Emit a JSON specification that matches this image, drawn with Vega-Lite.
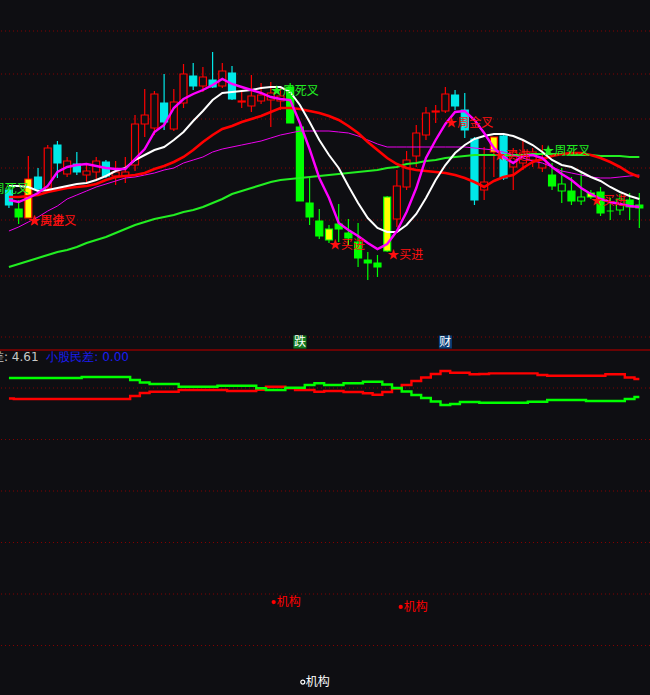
{
  "$schema": "https://vega.github.io/schema/vega-lite/v6.json",
  "width": 650,
  "height": 695,
  "padding": 0,
  "autosize": {"type": "none"},
  "background": "#0e0e12",
  "config": {"view": {"stroke": null}, "text": {"font": "Noto Sans CJK SC"}},
  "datasets": {
    "bars": [
      {"k":0,"t":"C","o":30.50,"c":29.75,"h":30.65,"l":29.60,"w":30.70,"m5":30.00,"r":30.15,"mt":28.45,"g":26.65,"lg":21.94,"lr":17.96},
      {"k":1,"t":"G","o":29.55,"c":29.15,"h":30.00,"l":28.80,"w":30.70,"m5":29.90,"r":30.15,"mt":28.65,"g":26.80,"lg":21.94,"lr":17.86},
      {"k":2,"t":"YR","o":29.10,"c":31.05,"h":32.20,"l":29.10,"w":30.65,"m5":30.10,"r":30.20,"mt":28.90,"g":26.95,"lg":21.94,"lr":17.86},
      {"k":3,"t":"C","o":31.15,"c":30.55,"h":31.60,"l":30.50,"w":30.45,"m5":30.35,"r":30.25,"mt":29.15,"g":27.10,"lg":21.94,"lr":17.86},
      {"k":4,"t":"R","o":30.60,"c":32.60,"h":32.75,"l":30.50,"w":30.50,"m5":30.70,"r":30.40,"mt":29.45,"g":27.25,"lg":21.94,"lr":17.86},
      {"k":5,"t":"C","o":32.75,"c":31.85,"h":32.95,"l":31.10,"w":30.60,"m5":31.40,"r":30.50,"mt":29.70,"g":27.40,"lg":21.94,"lr":17.86},
      {"k":6,"t":"R","o":31.30,"c":31.95,"h":32.15,"l":31.15,"w":30.70,"m5":31.65,"r":30.60,"mt":30.05,"g":27.50,"lg":21.94,"lr":17.86},
      {"k":7,"t":"C","o":31.80,"c":31.40,"h":32.40,"l":31.25,"w":30.80,"m5":31.75,"r":30.65,"mt":30.25,"g":27.65,"lg":21.94,"lr":17.86},
      {"k":8,"t":"R","o":31.25,"c":31.45,"h":31.85,"l":30.90,"w":30.85,"m5":31.80,"r":30.70,"mt":30.45,"g":27.85,"lg":22.14,"lr":17.86},
      {"k":9,"t":"R","o":31.40,"c":31.95,"h":32.15,"l":31.00,"w":31.00,"m5":31.70,"r":30.80,"mt":30.65,"g":28.00,"lg":22.14,"lr":17.86},
      {"k":10,"t":"C","o":31.90,"c":31.20,"h":32.00,"l":31.10,"w":31.20,"m5":31.60,"r":31.00,"mt":30.80,"g":28.15,"lg":22.14,"lr":17.86},
      {"k":11,"t":"R","o":31.20,"c":31.40,"h":31.95,"l":30.75,"w":31.45,"m5":31.55,"r":31.15,"mt":30.95,"g":28.35,"lg":22.14,"lr":17.86},
      {"k":12,"t":"R","o":31.20,"c":31.40,"h":32.15,"l":30.85,"w":31.60,"m5":31.55,"r":31.20,"mt":31.10,"g":28.55,"lg":22.14,"lr":17.86},
      {"k":13,"t":"R","o":31.75,"c":33.80,"h":34.25,"l":31.45,"w":32.00,"m5":32.05,"r":31.25,"mt":31.15,"g":28.75,"lg":21.55,"lr":18.45},
      {"k":14,"t":"R","o":33.80,"c":34.25,"h":35.55,"l":33.15,"w":32.25,"m5":32.55,"r":31.35,"mt":31.25,"g":28.90,"lg":21.07,"lr":19.03},
      {"k":15,"t":"R","o":33.60,"c":35.30,"h":35.45,"l":33.25,"w":32.50,"m5":33.40,"r":31.55,"mt":31.35,"g":29.05,"lg":20.78,"lr":19.28},
      {"k":16,"t":"C","o":34.85,"c":33.90,"h":36.30,"l":33.50,"w":32.65,"m5":33.75,"r":31.70,"mt":31.50,"g":29.15,"lg":20.78,"lr":19.28},
      {"k":17,"t":"R","o":33.55,"c":34.90,"h":35.55,"l":33.45,"w":33.00,"m5":34.60,"r":31.90,"mt":31.60,"g":29.25,"lg":20.78,"lr":19.28},
      {"k":18,"t":"R","o":34.85,"c":36.30,"h":36.80,"l":34.60,"w":33.40,"m5":35.05,"r":32.15,"mt":31.85,"g":29.40,"lg":20.25,"lr":19.61},
      {"k":19,"t":"C","o":36.20,"c":35.70,"h":36.85,"l":35.50,"w":33.95,"m5":35.30,"r":32.50,"mt":32.00,"g":29.50,"lg":20.25,"lr":19.61},
      {"k":20,"t":"R","o":35.70,"c":36.15,"h":36.65,"l":35.40,"w":34.45,"m5":35.50,"r":32.90,"mt":32.15,"g":29.65,"lg":20.25,"lr":19.61},
      {"k":21,"t":"C","o":36.00,"c":35.65,"h":37.40,"l":35.60,"w":35.00,"m5":35.75,"r":33.25,"mt":32.40,"g":29.85,"lg":20.25,"lr":19.61},
      {"k":22,"t":"R","o":35.70,"c":36.45,"h":36.85,"l":35.60,"w":35.35,"m5":36.05,"r":33.55,"mt":32.55,"g":30.05,"lg":20.45,"lr":19.61},
      {"k":23,"t":"C","o":36.35,"c":35.05,"h":36.70,"l":35.00,"w":35.40,"m5":35.80,"r":33.70,"mt":32.65,"g":30.30,"lg":20.45,"lr":19.42},
      {"k":24,"t":"R","o":34.90,"c":34.95,"h":35.40,"l":34.60,"w":35.45,"m5":35.65,"r":33.90,"mt":32.75,"g":30.45,"lg":20.45,"lr":19.42},
      {"k":25,"t":"R","o":34.70,"c":35.20,"h":36.25,"l":34.40,"w":35.50,"m5":35.50,"r":34.05,"mt":32.85,"g":30.60,"lg":20.45,"lr":19.42},
      {"k":26,"t":"R","o":34.95,"c":35.25,"h":35.85,"l":34.80,"w":35.60,"m5":35.35,"r":34.20,"mt":32.95,"g":30.75,"lg":19.94,"lr":19.67},
      {"k":27,"t":"R","o":35.00,"c":35.35,"h":35.90,"l":33.65,"w":35.65,"m5":35.15,"r":34.40,"mt":33.10,"g":30.90,"lg":19.61,"lr":20.25},
      {"k":28,"t":"R","o":34.95,"c":35.20,"h":35.60,"l":34.50,"w":35.65,"m5":35.05,"r":34.60,"mt":33.25,"g":31.00,"lg":19.61,"lr":20.25},
      {"k":29,"t":"G","o":35.65,"c":33.85,"h":35.85,"l":33.85,"w":35.40,"m5":35.00,"r":34.60,"mt":33.35,"g":31.05,"lg":20.06,"lr":19.94},
      {"k":30,"t":"G","o":33.65,"c":29.95,"h":33.75,"l":29.95,"w":34.75,"m5":33.85,"r":34.55,"mt":33.45,"g":31.10,"lg":20.06,"lr":19.61},
      {"k":31,"t":"G","o":29.85,"c":29.15,"h":31.10,"l":28.75,"w":33.90,"m5":32.55,"r":34.45,"mt":33.45,"g":31.15,"lg":20.58,"lr":19.61},
      {"k":32,"t":"G","o":28.95,"c":28.20,"h":29.55,"l":28.05,"w":33.00,"m5":31.10,"r":34.35,"mt":33.45,"g":31.20,"lg":20.91,"lr":19.28},
      {"k":33,"t":"YG","o":28.55,"c":28.00,"h":28.75,"l":27.85,"w":32.25,"m5":30.10,"r":34.20,"mt":33.45,"g":31.25,"lg":20.58,"lr":19.42},
      {"k":34,"t":"G","o":28.80,"c":28.55,"h":29.80,"l":27.90,"w":31.60,"m5":28.85,"r":34.00,"mt":33.40,"g":31.30,"lg":20.58,"lr":19.42},
      {"k":35,"t":"G","o":28.35,"c":28.10,"h":29.05,"l":27.75,"w":30.70,"m5":28.50,"r":33.70,"mt":33.35,"g":31.35,"lg":20.91,"lr":19.22},
      {"k":36,"t":"G","o":27.90,"c":27.10,"h":28.85,"l":26.65,"w":29.85,"m5":28.20,"r":33.35,"mt":33.20,"g":31.40,"lg":20.91,"lr":19.22},
      {"k":37,"t":"G","o":27.00,"c":26.85,"h":27.40,"l":26.00,"w":29.10,"m5":27.85,"r":32.90,"mt":33.00,"g":31.45,"lg":21.22,"lr":18.97},
      {"k":38,"t":"G","o":26.85,"c":26.65,"h":27.25,"l":26.15,"w":28.60,"m5":27.55,"r":32.50,"mt":32.80,"g":31.50,"lg":21.22,"lr":18.70},
      {"k":39,"t":"YG","o":30.15,"c":27.45,"h":30.20,"l":27.40,"w":28.40,"m5":27.80,"r":32.10,"mt":32.65,"g":31.60,"lg":20.68,"lr":19.22},
      {"k":40,"t":"R","o":29.05,"c":30.70,"h":31.50,"l":28.65,"w":28.40,"m5":28.45,"r":31.80,"mt":32.65,"g":31.65,"lg":20.00,"lr":19.88},
      {"k":41,"t":"R","o":30.65,"c":32.00,"h":32.45,"l":30.50,"w":28.75,"m5":29.40,"r":31.60,"mt":32.65,"g":31.80,"lg":19.32,"lr":20.58},
      {"k":42,"t":"R","o":32.20,"c":33.35,"h":33.75,"l":31.65,"w":29.30,"m5":30.60,"r":31.50,"mt":32.65,"g":31.85,"lg":18.64,"lr":21.36},
      {"k":43,"t":"R","o":33.25,"c":34.35,"h":34.65,"l":33.00,"w":30.10,"m5":32.10,"r":31.45,"mt":32.65,"g":31.95,"lg":18.06,"lr":22.04},
      {"k":44,"t":"R","o":34.40,"c":34.45,"h":34.75,"l":33.85,"w":31.00,"m5":33.00,"r":31.40,"mt":32.65,"g":32.00,"lg":17.38,"lr":22.72},
      {"k":45,"t":"R","o":34.45,"c":35.30,"h":35.65,"l":34.35,"w":31.75,"m5":33.80,"r":31.35,"mt":32.65,"g":32.10,"lg":16.70,"lr":23.30},
      {"k":46,"t":"C","o":35.25,"c":34.70,"h":35.50,"l":34.50,"w":32.35,"m5":34.40,"r":31.25,"mt":32.65,"g":32.15,"lg":16.89,"lr":22.97},
      {"k":47,"t":"C","o":34.50,"c":33.50,"h":35.35,"l":33.10,"w":32.75,"m5":34.45,"r":31.10,"mt":32.65,"g":32.20,"lg":17.28,"lr":22.97},
      {"k":48,"t":"C","o":33.05,"c":30.00,"h":33.15,"l":29.75,"w":33.05,"m5":34.00,"r":30.90,"mt":32.60,"g":32.25,"lg":17.28,"lr":22.66},
      {"k":49,"t":"R","o":30.50,"c":30.90,"h":32.65,"l":30.00,"w":33.20,"m5":33.35,"r":30.65,"mt":32.55,"g":32.25,"lg":17.15,"lr":22.72},
      {"k":50,"t":"YR","o":32.40,"c":33.15,"h":33.15,"l":31.15,"w":33.30,"m5":32.60,"r":30.95,"mt":32.50,"g":32.25,"lg":17.15,"lr":22.85},
      {"k":51,"t":"C","o":33.20,"c":31.10,"h":33.35,"l":31.00,"w":33.30,"m5":32.15,"r":31.15,"mt":32.40,"g":32.25,"lg":17.15,"lr":22.85},
      {"k":52,"t":"R","o":31.65,"c":32.40,"h":32.60,"l":30.50,"w":33.20,"m5":31.85,"r":31.25,"mt":32.25,"g":32.25,"lg":17.15,"lr":22.85},
      {"k":53,"t":"R","o":31.85,"c":32.35,"h":33.00,"l":31.50,"w":33.00,"m5":32.20,"r":31.60,"mt":32.10,"g":32.25,"lg":17.15,"lr":22.85},
      {"k":54,"t":"R","o":32.00,"c":32.40,"h":32.60,"l":31.65,"w":32.75,"m5":32.25,"r":31.90,"mt":31.95,"g":32.30,"lg":17.34,"lr":22.85},
      {"k":55,"t":"R","o":31.60,"c":32.00,"h":32.75,"l":31.40,"w":32.40,"m5":32.10,"r":32.05,"mt":31.85,"g":32.30,"lg":17.34,"lr":22.52},
      {"k":56,"t":"G","o":31.25,"c":30.70,"h":31.85,"l":30.50,"w":32.00,"m5":31.65,"r":32.20,"mt":31.65,"g":32.30,"lg":17.67,"lr":22.39},
      {"k":57,"t":"g","o":30.45,"c":30.80,"h":31.60,"l":29.85,"w":31.75,"m5":31.30,"r":32.30,"mt":31.45,"g":32.30,"lg":17.67,"lr":22.39},
      {"k":58,"t":"G","o":30.45,"c":29.95,"h":31.15,"l":29.75,"w":31.65,"m5":31.00,"r":32.35,"mt":31.35,"g":32.25,"lg":17.67,"lr":22.39},
      {"k":59,"t":"g","o":29.95,"c":30.15,"h":31.35,"l":29.75,"w":31.40,"m5":30.60,"r":32.35,"mt":31.25,"g":32.25,"lg":17.67,"lr":22.39},
      {"k":60,"t":"YG","o":30.15,"c":30.35,"h":30.50,"l":30.05,"w":31.15,"m5":30.30,"r":32.25,"mt":31.15,"g":32.25,"lg":17.48,"lr":22.39},
      {"k":61,"t":"G","o":30.40,"c":29.35,"h":30.65,"l":29.20,"w":30.95,"m5":30.05,"r":32.10,"mt":31.10,"g":32.20,"lg":17.48,"lr":22.39},
      {"k":62,"t":"G","o":29.45,"c":29.45,"h":30.10,"l":29.00,"w":30.65,"m5":29.90,"r":31.90,"mt":31.10,"g":32.20,"lg":17.48,"lr":22.66},
      {"k":63,"t":"g","o":29.50,"c":30.05,"h":30.30,"l":29.25,"w":30.40,"m5":29.80,"r":31.65,"mt":31.15,"g":32.20,"lg":17.48,"lr":22.66},
      {"k":64,"t":"G","o":30.00,"c":29.65,"h":30.35,"l":29.00,"w":30.20,"m5":29.70,"r":31.35,"mt":31.20,"g":32.15,"lg":17.86,"lr":22.04},
      {"k":65,"t":"G","o":29.75,"c":29.60,"h":30.35,"l":28.60,"w":30.05,"m5":29.65,"r":31.15,"mt":31.25,"g":32.15,"lg":18.25,"lr":21.75}
    ],
    "signals": [
      {"k":-2.9,"p":30.55,"txt":"★周死叉","kind":"dead"},
      {"k":2,"p":28.95,"txt":"★周金叉","kind":"gold"},
      {"k":2,"p":28.95,"txt":"★买进","kind":"gold"},
      {"k":27,"p":35.45,"txt":"★周死叉","kind":"dead"},
      {"k":33,"p":27.75,"txt":"★买进","kind":"gold"},
      {"k":39,"p":27.25,"txt":"★买进","kind":"gold"},
      {"k":45,"p":33.85,"txt":"★周金叉","kind":"gold"},
      {"k":50,"p":32.20,"txt":"★买进","kind":"gold"},
      {"k":55,"p":32.45,"txt":"★周死叉","kind":"dead"},
      {"k":60,"p":29.95,"txt":"★买进","kind":"gold"}
    ],
    "events": [
      {"k":30,"p":22.90,"txt":"跌"},
      {"k":45,"p":22.90,"txt":"财"}
    ],
    "grid_main": [{"p":38.45},{"p":36.30},{"p":34.05},{"p":31.60},{"p":29.00},{"p":26.20},{"p":23.15}],
    "grid_low": [{"v":20},{"v":10},{"v":0},{"v":-10},{"v":-20},{"v":-30}],
    "inst": [
      {"k":27.3,"v":-21.56,"kind":"red"},
      {"k":40.4,"v":-22.5,"kind":"red"},
      {"k":30.3,"v":-37.1,"kind":"white"}
    ],
    "titles": [
      {"k":3.05,"v":26.0,"txt":"大股民差: 4.61","kind":"a"},
      {"k":3.86,"v":26.0,"txt":"小股民差: 0.00","kind":"b"}
    ]
  },
  "layer": [
    {
      "layer": [
        {
          "data": {"name": "grid_main"},
          "mark": {"type": "rule", "stroke": "#850000", "strokeDash": [1, 3], "strokeWidth": 1},
          "encoding": {"y": {"field": "p", "type": "quantitative", "scale": {"domain": [5.25, 40], "nice": false, "zero": false}, "axis": null}}
        },
        {
          "data": {"name": "bars"},
          "mark": {"type": "rule", "strokeWidth": 1.2},
          "encoding": {
            "x": {"field": "k", "type": "quantitative", "scale": {"domain": [-0.406, 65.584], "nice": false, "zero": false}, "axis": null},
            "y": {"field": "h", "type": "quantitative", "scale": {"domain": [5.25, 40], "nice": false, "zero": false}, "axis": null},
            "y2": {"field": "l"},
            "stroke": {"field": "t", "type": "nominal", "legend": null, "scale": {"domain": ["R","C","G","g","YR","YG"], "range": ["#ff0000","#00e8e8","#00ff00","#00ff00","#ff0000","#00ff00"]}}
          }
        },
        {
          "data": {"name": "bars"},
          "mark": {"type": "bar", "width": 7, "strokeWidth": 1.2},
          "encoding": {
            "x": {"field": "k", "type": "quantitative", "scale": {"domain": [-0.406, 65.584], "nice": false, "zero": false}, "axis": null},
            "y": {"field": "o", "type": "quantitative", "scale": {"domain": [5.25, 40], "nice": false, "zero": false}, "axis": null},
            "y2": {"field": "c"},
            "fill": {"field": "t", "type": "nominal", "legend": null, "scale": {"domain": ["R","C","G","g","YR","YG"], "range": ["#0e0e12","#00e8e8","#00ff00","#0e0e12","#ffff00","#ffff00"]}},
            "stroke": {"field": "t", "type": "nominal", "legend": null, "scale": {"domain": ["R","C","G","g","YR","YG"], "range": ["#ff0000","#00e8e8","#00ff00","#00ff00","#ff0000","#00ff00"]}}
          }
        },
        {
          "data": {"name": "bars"},
          "mark": {"type": "line", "stroke": "#22ee22", "strokeWidth": 2.2},
          "encoding": {
            "x": {"field": "k", "type": "quantitative", "scale": {"domain": [-0.406, 65.584], "nice": false, "zero": false}, "axis": null},
            "y": {"field": "g", "type": "quantitative", "scale": {"domain": [5.25, 40], "nice": false, "zero": false}, "axis": null}
          }
        },
        {
          "data": {"name": "bars"},
          "mark": {"type": "line", "stroke": "#ee00ee", "strokeWidth": 1},
          "encoding": {
            "x": {"field": "k", "type": "quantitative", "scale": {"domain": [-0.406, 65.584], "nice": false, "zero": false}, "axis": null},
            "y": {"field": "mt", "type": "quantitative", "scale": {"domain": [5.25, 40], "nice": false, "zero": false}, "axis": null}
          }
        },
        {
          "data": {"name": "bars"},
          "mark": {"type": "line", "stroke": "#ff0000", "strokeWidth": 2.6},
          "encoding": {
            "x": {"field": "k", "type": "quantitative", "scale": {"domain": [-0.406, 65.584], "nice": false, "zero": false}, "axis": null},
            "y": {"field": "r", "type": "quantitative", "scale": {"domain": [5.25, 40], "nice": false, "zero": false}, "axis": null}
          }
        },
        {
          "data": {"name": "bars"},
          "mark": {"type": "line", "stroke": "#ffffff", "strokeWidth": 2},
          "encoding": {
            "x": {"field": "k", "type": "quantitative", "scale": {"domain": [-0.406, 65.584], "nice": false, "zero": false}, "axis": null},
            "y": {"field": "w", "type": "quantitative", "scale": {"domain": [5.25, 40], "nice": false, "zero": false}, "axis": null}
          }
        },
        {
          "data": {"name": "bars"},
          "mark": {"type": "line", "stroke": "#ff00ff", "strokeWidth": 2.4},
          "encoding": {
            "x": {"field": "k", "type": "quantitative", "scale": {"domain": [-0.406, 65.584], "nice": false, "zero": false}, "axis": null},
            "y": {"field": "m5", "type": "quantitative", "scale": {"domain": [5.25, 40], "nice": false, "zero": false}, "axis": null}
          }
        },
        {
          "data": {"name": "signals"},
          "transform": [{"filter": "datum.kind === 'gold'"}],
          "mark": {"type": "text", "align": "left", "baseline": "middle", "fontSize": 12, "color": "#ff1010"},
          "encoding": {
            "x": {"field": "k", "type": "quantitative", "scale": {"domain": [-0.406, 65.584], "nice": false, "zero": false}, "axis": null},
            "y": {"field": "p", "type": "quantitative", "scale": {"domain": [5.25, 40], "nice": false, "zero": false}, "axis": null},
            "text": {"field": "txt"}
          }
        },
        {
          "data": {"name": "signals"},
          "transform": [{"filter": "datum.kind === 'dead'"}],
          "mark": {"type": "text", "align": "left", "baseline": "middle", "fontSize": 12, "color": "#22ee22"},
          "encoding": {
            "x": {"field": "k", "type": "quantitative", "scale": {"domain": [-0.406, 65.584], "nice": false, "zero": false}, "axis": null},
            "y": {"field": "p", "type": "quantitative", "scale": {"domain": [5.25, 40], "nice": false, "zero": false}, "axis": null},
            "text": {"field": "txt"}
          }
        },
        {
          "data": {"name": "events"},
          "transform": [{"filter": "datum.txt === '跌'"}],
          "mark": {"type": "square", "size": 170, "filled": true, "opacity": 1, "color": "#137a1f"},
          "encoding": {
            "x": {"field": "k", "type": "quantitative", "scale": {"domain": [-0.406, 65.584], "nice": false, "zero": false}, "axis": null},
            "y": {"field": "p", "type": "quantitative", "scale": {"domain": [5.25, 40], "nice": false, "zero": false}, "axis": null}
          }
        },
        {
          "data": {"name": "events"},
          "transform": [{"filter": "datum.txt === '财'"}],
          "mark": {"type": "square", "size": 170, "filled": true, "opacity": 1, "color": "#0c3f78"},
          "encoding": {
            "x": {"field": "k", "type": "quantitative", "scale": {"domain": [-0.406, 65.584], "nice": false, "zero": false}, "axis": null},
            "y": {"field": "p", "type": "quantitative", "scale": {"domain": [5.25, 40], "nice": false, "zero": false}, "axis": null}
          }
        },
        {
          "data": {"name": "events"},
          "mark": {"type": "text", "align": "center", "baseline": "middle", "fontSize": 12, "color": "#ffffff"},
          "encoding": {
            "x": {"field": "k", "type": "quantitative", "scale": {"domain": [-0.406, 65.584], "nice": false, "zero": false}, "axis": null},
            "y": {"field": "p", "type": "quantitative", "scale": {"domain": [5.25, 40], "nice": false, "zero": false}, "axis": null},
            "text": {"field": "txt"}
          }
        },
        {
          "data": {"values": [{"p": 22.5}]},
          "mark": {"type": "rule", "stroke": "#8a0000", "strokeWidth": 1.5},
          "encoding": {"y": {"field": "p", "type": "quantitative", "scale": {"domain": [5.25, 40], "nice": false, "zero": false}, "axis": null}}
        }
      ]
    },
    {
      "layer": [
        {
          "data": {"name": "grid_low"},
          "mark": {"type": "rule", "stroke": "#850000", "strokeDash": [1, 3], "strokeWidth": 1},
          "encoding": {"y": {"field": "v", "type": "quantitative", "scale": {"domain": [-39.61, 95.34], "nice": false, "zero": false}, "axis": null}}
        },
        {
          "data": {"name": "bars"},
          "mark": {"type": "line", "stroke": "#ff0000", "strokeWidth": 2.4, "interpolate": "step"},
          "encoding": {
            "x": {"field": "k", "type": "quantitative", "scale": {"domain": [-0.406, 65.584], "nice": false, "zero": false}, "axis": null},
            "y": {"field": "lr", "type": "quantitative", "scale": {"domain": [-39.61, 95.34], "nice": false, "zero": false}, "axis": null}
          }
        },
        {
          "data": {"name": "bars"},
          "mark": {"type": "line", "stroke": "#00ff00", "strokeWidth": 2.4, "interpolate": "step"},
          "encoding": {
            "x": {"field": "k", "type": "quantitative", "scale": {"domain": [-0.406, 65.584], "nice": false, "zero": false}, "axis": null},
            "y": {"field": "lg", "type": "quantitative", "scale": {"domain": [-39.61, 95.34], "nice": false, "zero": false}, "axis": null}
          }
        },
        {
          "data": {"name": "titles"},
          "transform": [{"filter": "datum.kind === 'a'"}],
          "mark": {"type": "text", "align": "right", "baseline": "middle", "fontSize": 12, "font": "DejaVu Sans", "color": "#c8c8c8"},
          "encoding": {
            "x": {"field": "k", "type": "quantitative", "scale": {"domain": [-0.406, 65.584], "nice": false, "zero": false}, "axis": null},
            "y": {"field": "v", "type": "quantitative", "scale": {"domain": [-39.61, 95.34], "nice": false, "zero": false}, "axis": null},
            "text": {"field": "txt"}
          }
        },
        {
          "data": {"name": "titles"},
          "transform": [{"filter": "datum.kind === 'b'"}],
          "mark": {"type": "text", "align": "left", "baseline": "middle", "fontSize": 12, "font": "DejaVu Sans", "color": "#1c1cf0"},
          "encoding": {
            "x": {"field": "k", "type": "quantitative", "scale": {"domain": [-0.406, 65.584], "nice": false, "zero": false}, "axis": null},
            "y": {"field": "v", "type": "quantitative", "scale": {"domain": [-39.61, 95.34], "nice": false, "zero": false}, "axis": null},
            "text": {"field": "txt"}
          }
        },
        {
          "data": {"name": "inst"},
          "transform": [{"filter": "datum.kind === 'red'"}],
          "mark": {"type": "circle", "size": 18, "color": "#ff0000", "opacity": 1},
          "encoding": {
            "x": {"field": "k", "type": "quantitative", "scale": {"domain": [-0.406, 65.584], "nice": false, "zero": false}, "axis": null},
            "y": {"field": "v", "type": "quantitative", "scale": {"domain": [-39.61, 95.34], "nice": false, "zero": false}, "axis": null}
          }
        },
        {
          "data": {"name": "inst"},
          "transform": [{"filter": "datum.kind === 'white'"}],
          "mark": {"type": "point", "size": 16, "color": "#ffffff", "strokeWidth": 1.2, "opacity": 1},
          "encoding": {
            "x": {"field": "k", "type": "quantitative", "scale": {"domain": [-0.406, 65.584], "nice": false, "zero": false}, "axis": null},
            "y": {"field": "v", "type": "quantitative", "scale": {"domain": [-39.61, 95.34], "nice": false, "zero": false}, "axis": null}
          }
        },
        {
          "data": {"name": "inst"},
          "transform": [{"filter": "datum.kind === 'red'"}],
          "mark": {"type": "text", "align": "left", "baseline": "middle", "fontSize": 12, "dx": 3, "color": "#ff0000"},
          "encoding": {
            "x": {"field": "k", "type": "quantitative", "scale": {"domain": [-0.406, 65.584], "nice": false, "zero": false}, "axis": null},
            "y": {"field": "v", "type": "quantitative", "scale": {"domain": [-39.61, 95.34], "nice": false, "zero": false}, "axis": null},
            "text": {"value": "机构"}
          }
        },
        {
          "data": {"name": "inst"},
          "transform": [{"filter": "datum.kind === 'white'"}],
          "mark": {"type": "text", "align": "left", "baseline": "middle", "fontSize": 12, "dx": 3, "color": "#ffffff"},
          "encoding": {
            "x": {"field": "k", "type": "quantitative", "scale": {"domain": [-0.406, 65.584], "nice": false, "zero": false}, "axis": null},
            "y": {"field": "v", "type": "quantitative", "scale": {"domain": [-39.61, 95.34], "nice": false, "zero": false}, "axis": null},
            "text": {"value": "机构"}
          }
        }
      ]
    }
  ],
  "resolve": {"scale": {"y": "independent"}}
}
